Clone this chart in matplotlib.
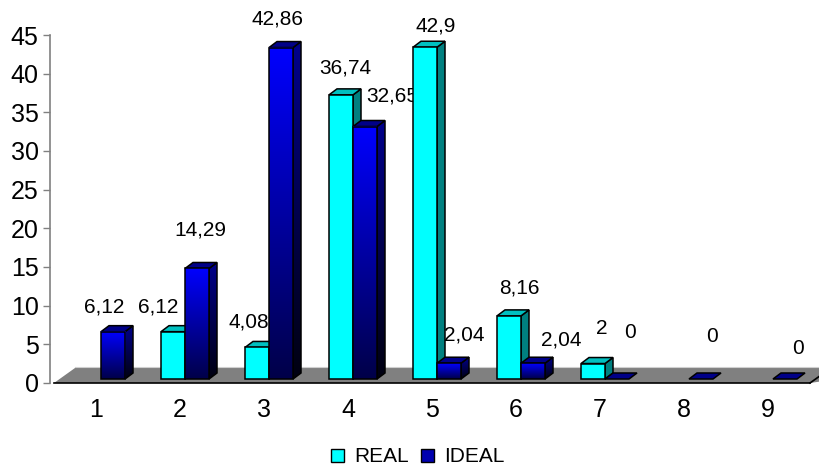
import numpy as np
import matplotlib
matplotlib.use("Agg")
import matplotlib.pyplot as plt
from matplotlib.patches import Polygon, Rectangle, Patch
from matplotlib.colors import LinearSegmentedColormap

plt.rcParams['font.family'] = ['Liberation Sans', 'DejaVu Sans']

# data
categories = [1, 2, 3, 4, 5, 6, 7, 8, 9]
real = [np.nan, 6.12, 4.08, 36.74, 42.9, 8.16, 2, np.nan, np.nan]
ideal = [6.12, 14.29, 42.86, 32.65, 2.04, 2.04, 0, 0, 0]
series_names = ["REAL", "IDEAL"]

# label nudges in pixels (x, y above bar top), like the hand placed Excel labels
real_nudge = [(0, 0), (-15, 25), (-8, 25), (4, 27), (11, 21), (10, 28), (9, 35), (0, 0), (0, 0)]
ideal_nudge = [(-9, 25), (3, 38), (-4, 29), (27, 31), (15, 28), (28, 23), (13, 47), (11, 42), (13, 30)]

W, H = 819, 466
fig = plt.figure(figsize=(W / 100, H / 100), dpi=100)
ax = fig.add_axes([54 / W, (H - 383) / H, 756 / W, 348 / H])
ax.set_xlim(0.5, 9.5)
ax.set_ylim(0, 45)

# pixel -> data unit helpers
PX = 9.0 / 756
PY = 45.0 / 348

bw = 24 * PX
sx, sy = 5 * PX, 4 * PY      # bars sit a bit back on the floor
ddx, ddy = 8 * PX, 6 * PY    # bar depth

grad = np.linspace(0, 1, 256).reshape(-1, 1)
cm_front = LinearSegmentedColormap.from_list("f", ["#000048", "#0000FF"])
cm_side = LinearSegmentedColormap.from_list("s", ["#000010", "#00008C"])

# floor
fl_dx, fl_dy = 21 * PX, 15 * PY
floor = Polygon([(0.5, 0), (0.5 + fl_dx, fl_dy), (9.5 + fl_dx + 1, fl_dy), (9.5, 0)],
                closed=True, facecolor="#808080", edgecolor="none", zorder=1, clip_on=False)
ax.add_patch(floor)
ax.plot([0.5, 9.5], [0, 0], color="black", lw=1.2, zorder=1.5, clip_on=False)
ax.plot([9.5, 9.5 + fl_dx], [0, fl_dy], color="black", lw=1.2, zorder=1.5, clip_on=False)
ax.plot([0.5 + fl_dx, 9.5 + fl_dx + 1], [fl_dy + 0.15, fl_dy + 0.15], color="#d0d0d0", lw=0.8,
        zorder=1.2, clip_on=False)

z = 3


def draw_bar(x0, val, kind):
    global z
    base = sy
    top = sy + val
    x1 = x0 + bw
    side = Polygon([(x1, base), (x1 + ddx, base + ddy), (x1 + ddx, top + ddy), (x1, top)],
                   closed=True, facecolor="#008080" if kind == 0 else "none",
                   edgecolor="black", lw=1.1, zorder=z + 0.3)
    topf = Polygon([(x0, top), (x1, top), (x1 + ddx, top + ddy), (x0 + ddx, top + ddy)],
                   closed=True, facecolor="#00C0C0" if kind == 0 else "#000088",
                   edgecolor="black", lw=1.1, zorder=z + 0.4)
    if val > 0:
        ax.add_patch(side)
        if kind == 1:
            im = ax.imshow(grad, extent=[x1, x1 + ddx, base, top + ddy], origin="lower",
                           cmap=cm_side, aspect="auto", zorder=z + 0.2)
            im.set_clip_path(side)
            ax.imshow(grad, extent=[x0, x1, base, top], origin="lower",
                      cmap=cm_front, aspect="auto", zorder=z + 0.5)
            ax.add_patch(Rectangle((x0, base), bw, val, facecolor="none",
                                   edgecolor="black", lw=1.1, zorder=z + 0.6))
        else:
            ax.add_patch(Rectangle((x0, base), bw, val, facecolor="#00FFFF",
                                   edgecolor="black", lw=1.1, zorder=z + 0.6))
    ax.add_patch(topf)
    z += 1


def fmt(v):
    return f"{v:g}".replace(".", ",")


for i, c in enumerate(categories):
    xr = c - bw + sx
    xi = c + sx
    if not np.isnan(real[i]):
        draw_bar(xr, real[i], 0)
        dx, dy = real_nudge[i]
        ax.annotate(fmt(real[i]), xy=(xr + bw / 2, sy + real[i]), xytext=(dx, dy),
                    textcoords="offset pixels", ha="center", va="center",
                    fontsize=15, zorder=2)
    if not np.isnan(ideal[i]):
        draw_bar(xi, ideal[i], 1)
        dx, dy = ideal_nudge[i]
        ax.annotate(fmt(ideal[i]), xy=(xi + bw / 2, sy + ideal[i]), xytext=(dx, dy),
                    textcoords="offset pixels", ha="center", va="center",
                    fontsize=15, zorder=2)

ax.set_xlim(0.5, 9.5)
ax.set_ylim(0, 45)

for s in ["top", "right", "bottom"]:
    ax.spines[s].set_visible(False)
ax.spines["left"].set_color("#808080")
ax.spines["left"].set_linewidth(1.2)
ax.spines["left"].set_position(("outward", 3))

ax.set_yticks(np.arange(0, 46, 5))
ax.set_xticks(categories)
ax.set_xticklabels([str(c) for c in categories])
ax.tick_params(axis="y", length=5, color="#808080", width=1, labelsize=18, pad=3)
ax.tick_params(axis="x", length=0, labelsize=18, pad=11)

handles = [Patch(facecolor="#00FFFF", edgecolor="black", lw=1.0),
           Patch(facecolor="#0000B0", edgecolor="black", lw=1.0)]
fig.legend(handles, series_names, loc="center", bbox_to_anchor=(418 / W, 1 - 457 / H),
           ncol=2, frameon=False, fontsize=15, handlelength=0.6, handleheight=0.6,
           handletextpad=0.5, columnspacing=0.6)

fig.savefig("out.png", dpi=100)
